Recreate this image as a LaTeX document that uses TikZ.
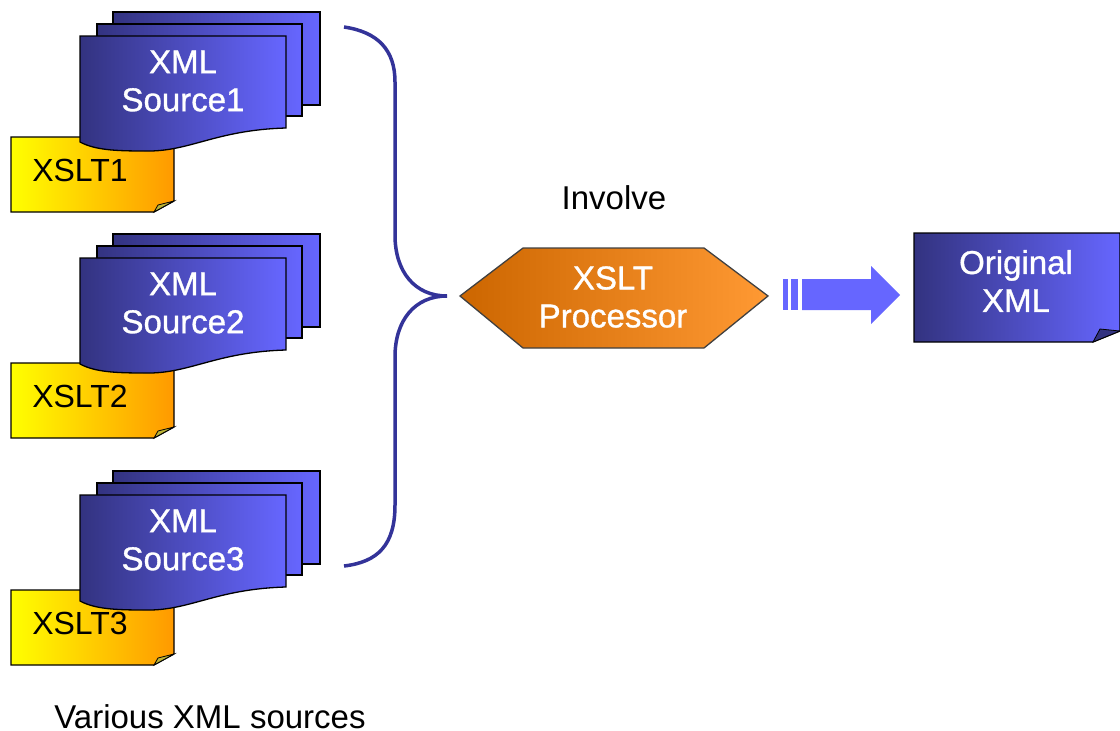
\documentclass[tikz,border=0pt]{standalone}
\usepackage{fontspec}
\usepackage{tikz}
\usepackage{xcolor}
\setmainfont{Liberation Sans}
\newfontfamily\heavysans[FakeBold=1]{Liberation Sans}
\definecolor{docdark}{HTML}{333380}
\definecolor{doclight}{HTML}{6666FF}
\definecolor{bracecol}{HTML}{333399}
\definecolor{xsltend}{HTML}{FF9900}
\definecolor{procdark}{HTML}{CC6600}
\definecolor{proclight}{HTML}{FF9933}
\tikzset{
    doc-sheet/.style = {draw=black, line width=1.3pt, left color=docdark, right color=doclight},
    xslt-sheet/.style = {draw=black, line width=1.3pt, left color=yellow, right color=xsltend},
    proc-shape/.style = {draw=black!75, line width=1.3pt, left color=procdark, right color=proclight},
    fold-mark/.style = {draw=black, line width=.8pt, fill=#1},
    white-label/.style = {text=white, font=\heavysans\fontsize{33}{38}\selectfont, align=center, inner sep=0pt},
    black-label/.style = {text=black, font=\fontsize{33}{38}\selectfont, align=center, inner sep=0pt},
    fat-arrow/.style = {fill=doclight, draw=none},
}
% one stack of sheets with its stylesheet below it
\newcommand{\xmlstack}[3]{
  \begin{scope}[shift={(0,#2)}]
  \path[xslt-sheet] (11,137+#3) -- (174,137+#3) -- (174,201+#3) -- (154,212+#3) -- (11,212+#3) -- cycle;
  \path[fold-mark=yellow!70!black] (154,212+#3) -- (158,205+#3) -- (174,201+#3) -- cycle;
  \node[black-label, font=\fontsize{32}{38}\selectfont] (xslt#1) at (80,170+#3) {XSLT#1};
  \path[doc-sheet] (113,12) rectangle (320,105);
  \path[doc-sheet] (97,24) rectangle (302,116);
  \path[doc-sheet] (80,36) -- (286,36) -- (286,128)
     .. controls (215,130) and (190,152) .. (145,151)
     .. controls (115,151) and (95,150) .. (80,142) -- cycle;
  \node[white-label] (source#1) at (183,81) {XML\\Source#1};
  \end{scope}
}

\begin{document}
\begin{tikzpicture}[x=1pt,y=-1pt]
\useasboundingbox (0,0) rectangle (1120,731);

\xmlstack{1}{0}{0}
\xmlstack{2}{222}{4}
\xmlstack{3}{459}{-6}

\node[black-label] (sources) at (210,717) {Various XML sources};

% brace
\coordinate (brace-top) at (344,27);
\coordinate (brace-tip) at (447,296);
\coordinate (brace-bottom) at (344,566);
\draw[bracecol, line width=3.5pt]
  (brace-top) .. controls (378,32) and (395,50) .. (395,82)
  -- (395,235) .. controls (395,272) and (415,296) .. (brace-tip)
  .. controls (415,296) and (395,320) .. (395,357)
  -- (395,505) .. controls (395,545) and (378,562) .. (brace-bottom);

% processor
\path[proc-shape] (460,296) -- (523,248) -- (704,248) -- (768,296) -- (704,348) -- (523,348) -- cycle;
\node[white-label] (processor) at (613,297) {XSLT\\Processor};
\node[black-label] (involve) at (614,198) {Involve};

% output sheet
\path[doc-sheet] (914,233) -- (1120,233) -- (1120,331) -- (1093,342) -- (914,342) -- cycle;
\path[fold-mark=docdark] (1093,342) -- (1100,329) -- (1120,331) -- cycle;
\node[white-label] (original) at (1016,281) {Original\\XML};

% arrow
\fill[fat-arrow] (783,279) rectangle (788,310);
\fill[fat-arrow] (791,279) rectangle (798,310);
\fill[fat-arrow] (802,279) -- (871,279) -- (871,266) -- (900,295) -- (871,324) -- (871,310) -- (802,310) -- cycle;
\end{tikzpicture}
\end{document}
